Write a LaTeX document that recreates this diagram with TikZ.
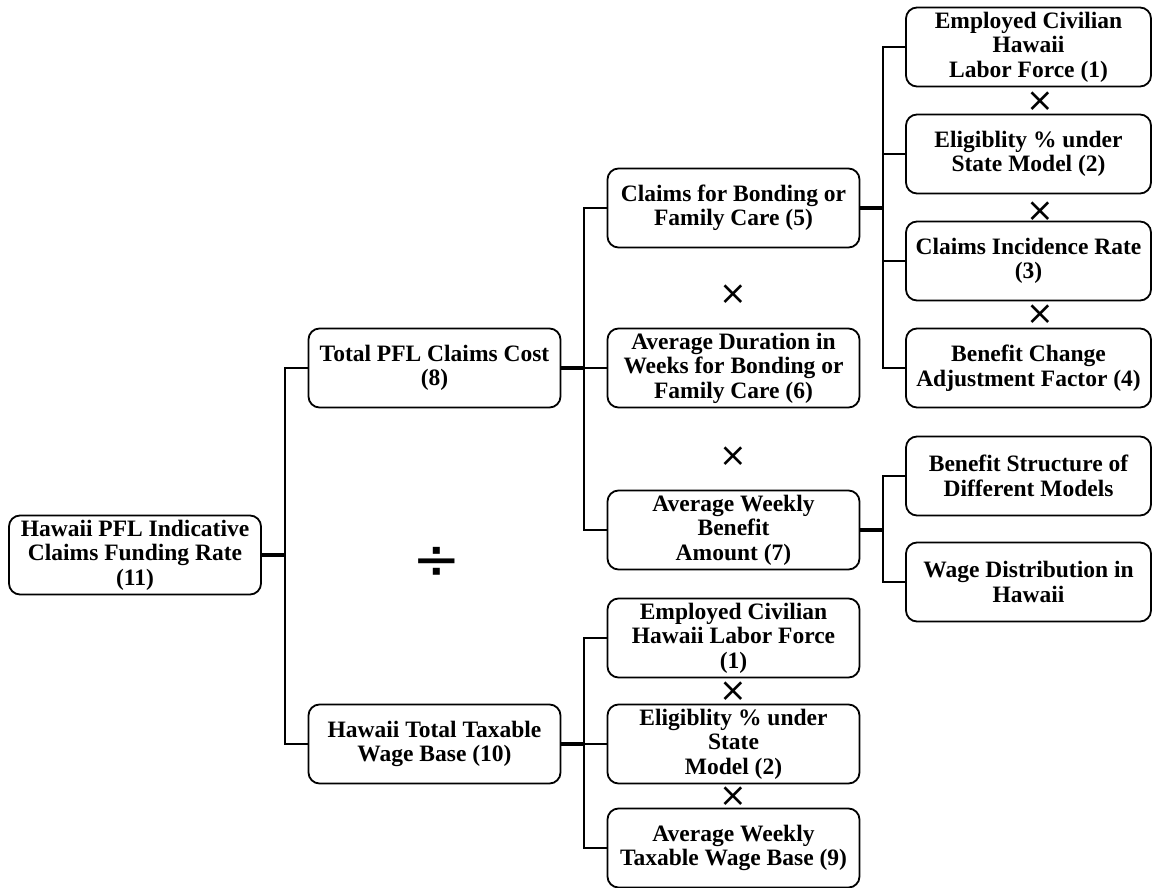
\documentclass[tikz,border=0pt]{standalone}
\usepackage{fontspec}
\setmainfont{Liberation Serif}
\newfontfamily\opfont{DejaVu Sans}
\usetikzlibrary{positioning, calc}

\begin{document}
\begin{tikzpicture}[x=1pt, y=-1pt,
            box/.style={draw, line width=1.8pt, rounded corners=11pt, align=center, inner sep=2pt,
                font=\fontsize{23.5}{24.5}\selectfont\bfseries, minimum height=79pt},
            wide/.style={box, minimum width=252pt},
            narrow/.style={box, minimum width=245pt},
            link/.style={line width=1.8pt},
            stub/.style={line width=3.4pt},
            times/.style={font=\opfont\fontsize{33}{33}\selectfont, inner sep=0pt},
            divide/.style={font=\opfont\fontsize{58}{58}\selectfont, inner sep=0pt}]
            \useasboundingbox (0,0) rectangle (1153,888);

            \node[wide] (rate) at (135,555) {Hawaii PFL Indicative\\Claims Funding Rate\\(11)};
            \node[wide] (cost) at (434.5,368) {Total PFL Claims Cost\\(8)};
            \node[wide] (wage) at (434.5,744) {Hawaii Total Taxable\\Wage Base (10)};

            \node[wide] (claims) at (733.5,208) {Claims for Bonding or\\Family Care (5)};
            \node[wide] (dur) at (733.5,368) {Average Duration in\\Weeks for Bonding or\\Family Care (6)};
            \node[wide] (awb) at (733.5,530) {Average Weekly\\Benefit\\Amount (7)};
            \node[wide] (force2) at (733.5,638) {Employed Civilian\\Hawaii Labor Force\\(1)};
            \node[wide] (elig2) at (733.5,744) {Eligiblity \% under\\State\\Model (2)};
            \node[wide] (awt) at (733.5,848) {Average Weekly\\Taxable Wage Base (9)};

            \node[narrow] (force) at (1028.5,47) {Employed Civilian\\Hawaii\\Labor Force (1)};
            \node[narrow] (elig) at (1028.5,154) {Eligiblity \% under\\State Model (2)};
            \node[narrow] (inc) at (1028.5,261) {Claims Incidence Rate\\(3)};
            \node[narrow] (adj) at (1028.5,368) {Benefit Change\\Adjustment Factor (4)};
            \node[narrow] (struct) at (1028.5,476) {Benefit Structure of\\Different Models};
            \node[narrow] (dist) at (1028.5,582) {Wage Distribution in\\Hawaii};

            \node[divide] (div) at (436.5,563) {÷};
            \node[times] (x1) at (733.5,295) {×};
            \node[times] (x2) at (733.5,457) {×};
            \node[times] (x3) at (1040,102) {×};
            \node[times] (x4) at (1040,212) {×};
            \node[times] (x5) at (1040,315) {×};
            \node[times] (x6) at (733.5,692) {×};
            \node[times] (x7) at (733.5,797) {×};

            \coordinate (t1) at ($(rate.east)!.5!(cost.west |- rate.east)$);
            \draw[stub] (rate.east) -- (t1);
            \draw[link] (cost.west) -| (t1) |- (wage.west);

            \coordinate (t2) at ($(cost.east)!.5!(claims.west |- cost.east)$);
            \draw[stub] (cost.east) -- (t2);
            \draw[link] (claims.west) -| (t2) |- (awb.west);
            \draw[link] (dur.west) -- (t2);

            \coordinate (t3) at ($(claims.east)!.5!(force.west |- claims.east)$);
            \draw[stub] (claims.east) -- (t3);
            \draw[link] (force.west) -| (t3) |- (adj.west);
            \draw[link] (elig.west) -- (elig.west -| t3);
            \draw[link] (inc.west) -- (inc.west -| t3);

            \coordinate (t4) at ($(awb.east)!.5!(struct.west |- awb.east)$);
            \draw[stub] (awb.east) -- (t4);
            \draw[link] (struct.west) -| (t4) |- (dist.west);

            \coordinate (t5) at ($(wage.east)!.5!(force2.west |- wage.east)$);
            \draw[stub] (wage.east) -- (t5);
            \draw[link] (force2.west) -| (t5) |- (awt.west);
            \draw[link] (elig2.west) -- (t5);
        \end{tikzpicture}
\end{document}
